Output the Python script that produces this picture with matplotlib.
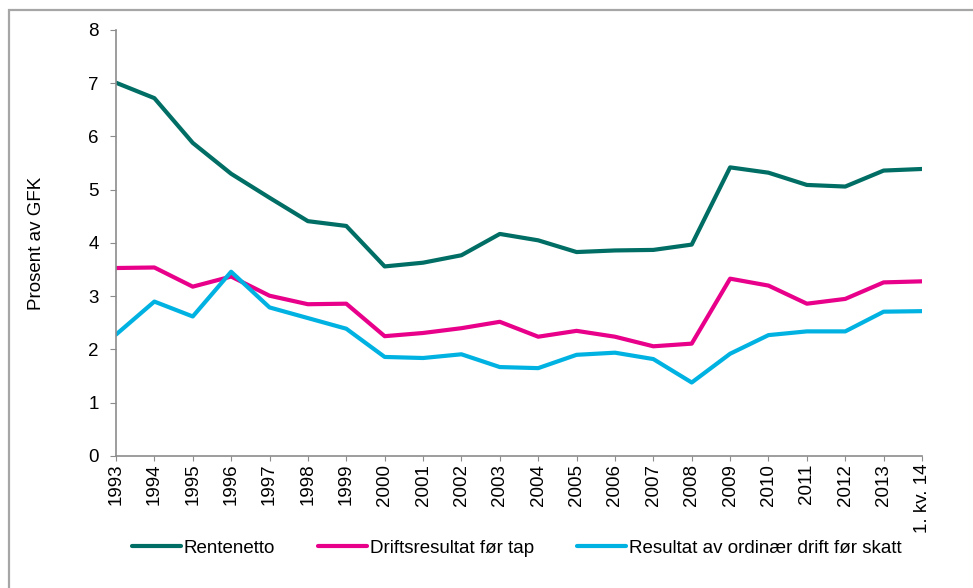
import matplotlib.pyplot as plt
from matplotlib.patches import Rectangle

plt.rcParams['font.family'] = ['Liberation Sans', 'DejaVu Sans']

# Data (per cent of GFK)
labels = ['1993', '1994', '1995', '1996', '1997', '1998', '1999', '2000', '2001',
          '2002', '2003', '2004', '2005', '2006', '2007', '2008', '2009', '2010',
          '2011', '2012', '2013', '1. kv. 14']
rentenetto = [7.01, 6.72, 5.88, 5.30, 4.85, 4.41, 4.32, 3.56, 3.63, 3.77, 4.17,
              4.05, 3.83, 3.86, 3.87, 3.97, 5.42, 5.32, 5.09, 5.06, 5.36, 5.39]
driftsresultat = [3.53, 3.54, 3.18, 3.37, 3.01, 2.85, 2.86, 2.25, 2.31, 2.40, 2.52,
                  2.24, 2.35, 2.24, 2.06, 2.11, 3.33, 3.20, 2.86, 2.95, 3.26, 3.28]
resultat = [2.28, 2.90, 2.62, 3.46, 2.79, 2.59, 2.39, 1.86, 1.84, 1.91, 1.67,
            1.65, 1.90, 1.94, 1.82, 1.38, 1.92, 2.27, 2.34, 2.34, 2.71, 2.72]

series_names = ['Rentenetto', 'Driftsresultat før tap', 'Resultat av ordinær drift før skatt']
series_colors = ['#006E64', '#E8008A', '#00B2E2']

fs = 13.5

fig = plt.figure(figsize=(9.73, 5.88), dpi=100)
ax = fig.add_axes([0.1192, 0.2245, 0.8284, 0.7245])

x = list(range(len(labels)))
for vals, name, col in zip([rentenetto, driftsresultat, resultat], series_names, series_colors):
    ax.plot(x, vals, color=col, linewidth=3.0, label=name, solid_capstyle='round')

ax.set_xlim(0, len(labels) - 1)
ax.set_ylim(0, 8)
ax.set_yticks(range(0, 9))
ax.set_xticks(x)
ax.set_xticklabels(labels, rotation=90, fontsize=fs)
ax.tick_params(axis='y', labelsize=fs, length=4.5, color='#8c8c8c', pad=8)
ax.tick_params(axis='x', length=3.6, color='#8c8c8c', pad=2)

for side in ['top', 'right']:
    ax.spines[side].set_visible(False)
for side in ['left', 'bottom']:
    ax.spines[side].set_color('#8c8c8c')
    ax.spines[side].set_linewidth(1.2)

ax.set_ylabel('Prosent av GFK', fontsize=fs)
ax.yaxis.set_label_coords(-0.088, 0.5)

fig.legend(loc='center', bbox_to_anchor=(0.531, 0.068), ncol=3, frameon=False,
           fontsize=fs, handlelength=2.6, handletextpad=0.15, columnspacing=2.3)

# outer frame, cut off at right and bottom like the reference
fig.patches.append(Rectangle((9 / 973, -0.05), 1.1, 1 - 10 / 588 + 0.05,
                             transform=fig.transFigure, fill=False,
                             edgecolor='#a6a6a6', linewidth=1.6))

fig.savefig('out.png', dpi=100)
